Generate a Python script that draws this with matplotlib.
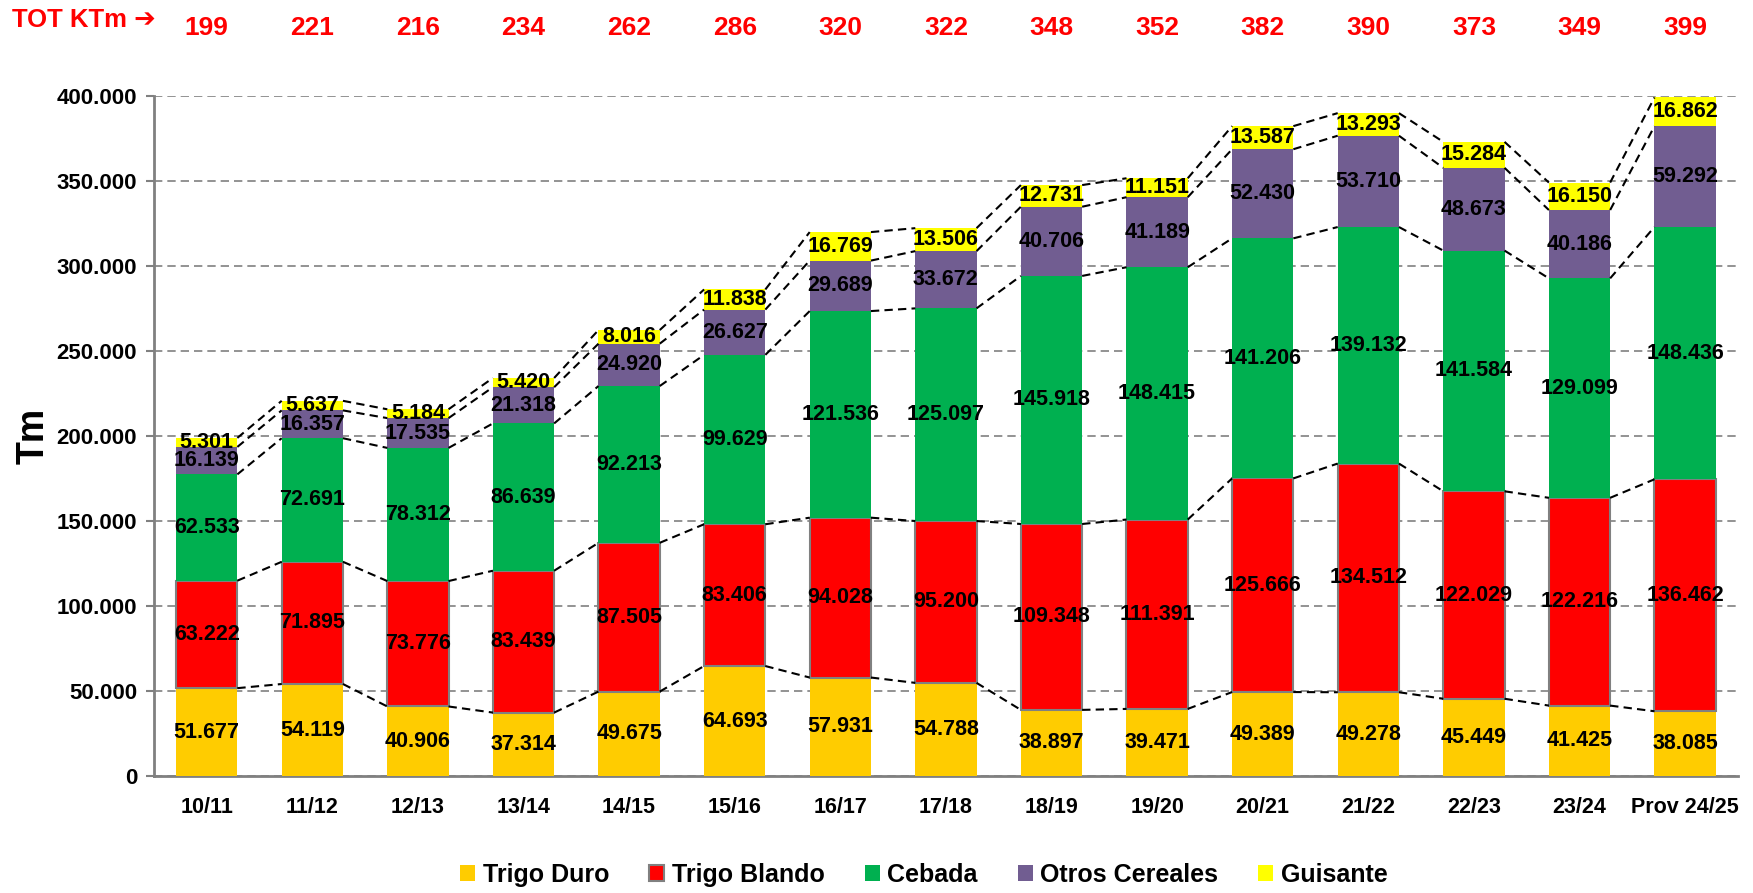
import matplotlib.pyplot as plt
import numpy as np

campaigns = ['10/11', '11/12', '12/13', '13/14', '14/15', '15/16', '16/17', '17/18',
             '18/19', '19/20', '20/21', '21/22', '22/23', '23/24', 'Prov 24/25']
trigo_duro = [51677, 54119, 40906, 37314, 49675, 64693, 57931, 54788,
              38897, 39471, 49389, 49278, 45449, 41425, 38085]
trigo_blando = [63222, 71895, 73776, 83439, 87505, 83406, 94028, 95200,
                109348, 111391, 125666, 134512, 122029, 122216, 136462]
cebada = [62533, 72691, 78312, 86639, 92213, 99629, 121536, 125097,
          145918, 148415, 141206, 139132, 141584, 129099, 148436]
otros = [16139, 16357, 17535, 21318, 24920, 26627, 29689, 33672,
         40706, 41189, 52430, 53710, 48673, 40186, 59292]
guisante = [5301, 5637, 5184, 5420, 8016, 11838, 16769, 13506,
            12731, 11151, 13587, 13293, 15284, 16150, 16862]
totals_ktm = [199, 221, 216, 234, 262, 286, 320, 322, 348, 352, 382, 390, 373, 349, 399]

series = [('Trigo Duro', trigo_duro, '#FFCC00'),
          ('Trigo Blando', trigo_blando, '#FF0000'),
          ('Cebada', cebada, '#00B050'),
          ('Otros Cereales', otros, '#715D91'),
          ('Guisante', guisante, '#FFFF00')]

plt.rcParams['font.family'] = ['Liberation Sans', 'DejaVu Sans']
plt.rcParams['font.weight'] = 'bold'

fig = plt.figure(figsize=(17.53, 8.93), dpi=100)
ax = fig.add_axes([0.0878, 0.131, 0.9036, 0.7615])

x = np.arange(len(campaigns))
w = 0.58
bottom = np.zeros(len(x))


def fmt(v):
    return f'{v:,}'.replace(',', '.')


for name, vals, color in series:
    vals = np.array(vals)
    edge = '#808080' if name == 'Trigo Blando' else color
    ax.bar(x, vals, w, bottom=bottom, color=color, edgecolor=edge,
           linewidth=1.5 if name == 'Trigo Blando' else 0, label=name, zorder=3)
    for i, v in enumerate(vals):
        ax.text(x[i], bottom[i] + v / 2, fmt(v), ha='center', va='center',
                fontsize=15.5, fontweight='bold', color='black', zorder=5)
    bottom = bottom + vals
    # dashed connectors between consecutive bar tops
    for i in range(len(x) - 1):
        ax.plot([x[i] + w / 2, x[i + 1] - w / 2], [bottom[i], bottom[i + 1]],
                color='black', linestyle=(0, (4, 2.5)), linewidth=1.5, zorder=4)

ax.set_xlim(-0.5, len(x) - 0.5)
ax.set_ylim(0, 400000)
ax.set_yticks(np.arange(0, 400001, 50000))
ax.set_yticklabels(['0' if t == 0 else fmt(int(t)) for t in np.arange(0, 400001, 50000)])
ax.set_xticks(x)
ax.set_xticklabels(campaigns)
ax.tick_params(axis='x', length=0, pad=15, labelsize=15.5)
ax.tick_params(axis='y', length=6, color='#808080', width=1.5, labelsize=16, pad=6)
for lbl in ax.get_xticklabels() + ax.get_yticklabels():
    lbl.set_fontweight('bold')

ax.grid(axis='y', color='#808080', linestyle=(0, (5, 3)), linewidth=1.2, zorder=0)
ax.set_axisbelow(True)
for s in ['top', 'right']:
    ax.spines[s].set_visible(False)
for s in ['left', 'bottom']:
    ax.spines[s].set_color('#808080')
    ax.spines[s].set_linewidth(2)

ax.set_ylabel('Tm', fontsize=27, fontweight='bold', labelpad=4)

# totals row
for i, t in enumerate(totals_ktm):
    fig.text(ax.transData.transform((x[i], 0))[0] / fig.bbox.width, 1 - 28 / 893, str(t),
             ha='center', va='center', color='#FF0000', fontsize=19, fontweight='bold')
fig.text(0.007, 1 - 20 / 893, 'TOT KTm ➔', ha='left', va='center', color='#FF0000',
         fontsize=18.5, fontweight='bold')

leg = fig.legend(loc='center', bbox_to_anchor=(0.527, 0.02), ncol=5, frameon=False,
                 fontsize=18, handlelength=0.6, handleheight=0.6, handletextpad=0.3,
                 columnspacing=1.6)
for t in leg.get_texts():
    t.set_fontweight('bold')

fig.savefig('out.png', dpi=100)
